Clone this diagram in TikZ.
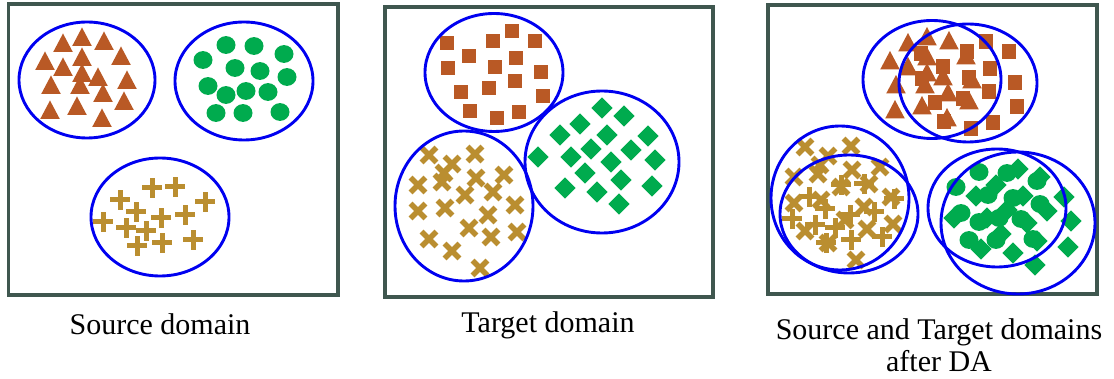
\documentclass[tikz,border=0pt]{standalone}
\usepackage{fontspec}
\setmainfont{Liberation Serif}

\definecolor{rust}{RGB}{185,89,37}
\definecolor{leaf}{RGB}{0,171,78}
\definecolor{ochre}{RGB}{186,142,48}
\definecolor{ring}{RGB}{0,0,240}
\definecolor{frame}{RGB}{63,87,79}

\tikzset{
  panel/.style={draw=frame, line width=3.8pt},
  cluster/.style={draw=ring, line width=2.9pt},
  lbl/.style={font=\fontsize{30}{32}\selectfont, inner sep=0pt},
  tri/.pic={\fill[rust] (-9.8,9) -- (9.8,9) -- (0,-9.5) -- cycle;},
  sq/.pic={\fill[rust] (-7.4,-7.4) rectangle (7.4,7.4);},
  dot/.pic={\fill[leaf] (0,0) ellipse [x radius=9.5, y radius=8.9];},
  dia/.pic={\fill[leaf] (-10.7,0) -- (0,-10.7) -- (10.7,0) -- (0,10.7) -- cycle;},
  pls/.pic={\fill[ochre] (-10,-2.5) rectangle (10,2.5);
            \fill[ochre] (-2.5,-10) rectangle (2.5,10);},
  crs/.pic={\fill[ochre,rotate=45] (-10.5,-2.8) rectangle (10.5,2.8);
            \fill[ochre,rotate=-45] (-10.5,-2.8) rectangle (10.5,2.8);},
}

% point sets, given relative to the centre of their cluster
\newcommand\trianglepoints{\foreach \u/\v in {-24/-37,-5/-43,17/-39,-42/-19,-5/-23,-24/-13,34/-24,
  -5/-7,11/-3,-36/5,-7/5,40/0,16/13,-37/30,-10/26,37/21,15/38} \pic at (\u,\v) {tri};}
\newcommand\dotpoints{\foreach \u/\v in {-41/-21,-18/-36,10/-35,40/-27,-9/-13,16/-10,43/-4,
  -36/5,-18/14,2/10,24/11,-28/32,-1/32,36/31} \pic at (\u,\v) {dot};}
\newcommand\pluspoints{\foreach \u/\v in {-8/-29,15/-30,-40/-17,45/-15,-24/-5,1/1,25/-2,
  -57/5,-34/11,-14/14,-23/29,2/26,33/23} \pic at (\u,\v) {pls};}
\newcommand\squarepoints{\foreach \u/\v in {-47/-29.5,-1/-31.5,18/-41.5,41/-31.5,-25/-16.5,22/-14.5,
  -46/-4.5,1/-5.5,47/-0.5,21/8.5,-33/19.5,-5/15.5,49/23.5,-24/38.5,3/45.5,25/39.5} \pic at (\u,\v) {sq};}
\newcommand\diamondpoints{\foreach \u/\v in {0/-54,22/-46,-22/-38,-42/-27,5/-27,46/-26,-64/-5,-31/-5,
  -11/-13,29/-12,9/0,53/-2,-17/11,19/18,-37/26,-5/30,50/24,17/42} \pic at (\u,\v) {dia};}
\newcommand\crosspoints{\foreach \u/\v in {-35/-51,11/-52,-12/-42,-20/-33,-22/-24,12/-28,40/-31,
  -46/-21,1/-11,29/-14,-46/5,-19/2,51/-1,24/9,5/22,53/26,-35/33,27/31,-12/45,16/62} \pic at (\u,\v) {crs};}

\begin{document}
\begin{tikzpicture}[x=1pt, y=-1pt]
\useasboundingbox (0,0) rectangle (1114,379);

% ---------- source domain ----------
\draw[panel] (8.5,4.3) rectangle (338,295);
\begin{scope}[shift={(87,80)}]  \trianglepoints \draw[cluster] (0,0) ellipse [x radius=68, y radius=58]; \end{scope}
\begin{scope}[shift={(244,81)}] \dotpoints      \draw[cluster] (0,0) ellipse [x radius=69, y radius=59]; \end{scope}
\begin{scope}[shift={(160,217)}]\pluspoints     \draw[cluster] (0,0) ellipse [x radius=69, y radius=59]; \end{scope}
\node[lbl, anchor=base] (srclbl) at (160,335) {Source domain};

% ---------- target domain ----------
\draw[panel] (384.7,7.2) rectangle (713.3,297);
\begin{scope}[shift={(494,72.5)}] \squarepoints  \draw[cluster] (0,0) ellipse [x radius=69, y radius=59]; \end{scope}
\begin{scope}[shift={(602,162)}]  \diamondpoints \draw[cluster] (0,0) ellipse [x radius=77, y radius=71]; \end{scope}
\begin{scope}[shift={(464,206)}]  \crosspoints   \draw[cluster] (0,0) ellipse [x radius=69, y radius=75]; \end{scope}
\node[lbl, anchor=base] (tgtlbl) at (548,333) {Target domain};

% ---------- both domains after adaptation ----------
\draw[panel] (768,4.7) rectangle (1097.3,294.3);
\begin{scope}[shift={(932,79.5)}] \trianglepoints \end{scope}
\begin{scope}[shift={(968,83)}]   \squarepoints   \end{scope}
\begin{scope}[shift={(997,208)}]  \dotpoints      \end{scope}
\begin{scope}[shift={(1018,223)}] \diamondpoints  \end{scope}
\begin{scope}[shift={(849,214)}]  \pluspoints     \end{scope}
\begin{scope}[shift={(840,198)}]  \crosspoints    \end{scope}
\draw[cluster] (932,79.5) ellipse [x radius=69, y radius=59];
\draw[cluster] (968,83)   ellipse [x radius=69, y radius=59];
\draw[cluster] (997,208)  ellipse [x radius=69, y radius=59];
\draw[cluster] (1018,223) ellipse [x radius=77, y radius=71];
\draw[cluster] (849,214)  ellipse [x radius=69, y radius=59];
\draw[cluster] (840,198)  ellipse [x radius=69, y radius=72];
\node[lbl, anchor=north, align=center] (dalbl) at (939,318.5) {Source and Target domains\\after DA};
\end{tikzpicture}
\end{document}
